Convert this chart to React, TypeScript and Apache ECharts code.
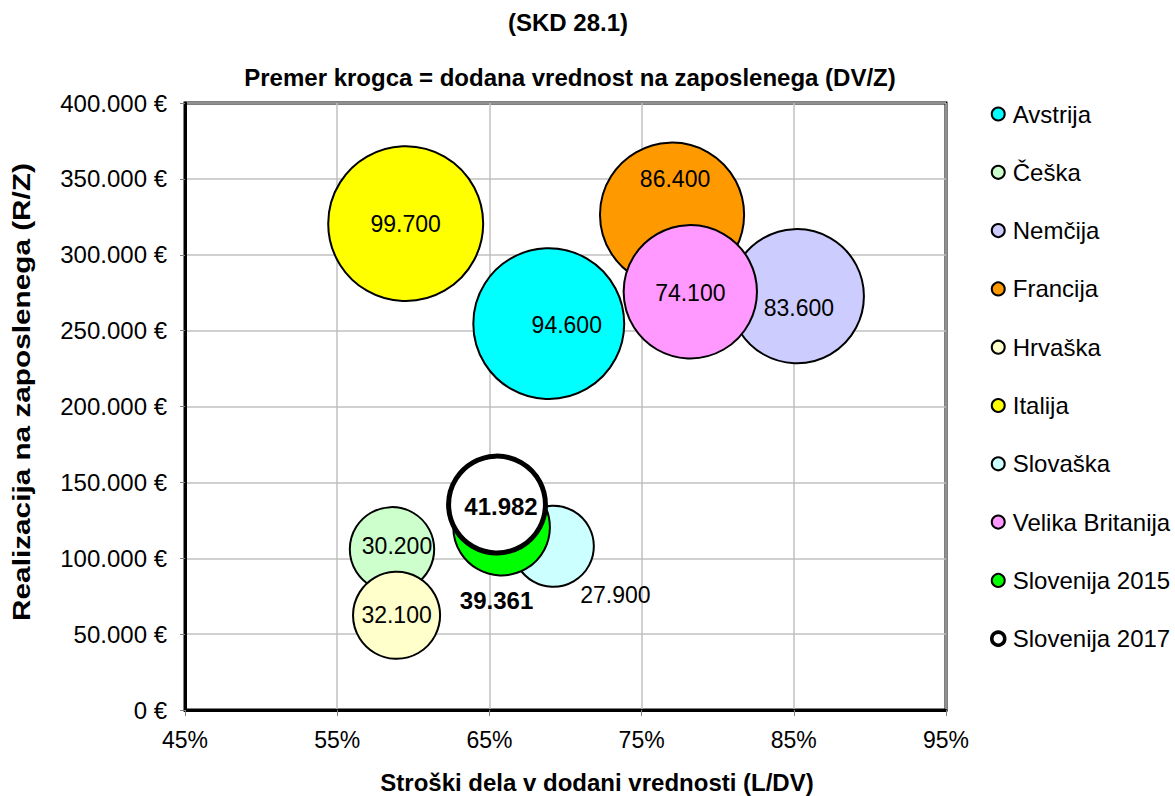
import React, { useEffect, useRef } from "react";
import * as echarts from "echarts";

// ---- data ----
const countries = [
  "Avstrija",
  "Češka",
  "Nemčija",
  "Francija",
  "Hrvaška",
  "Italija",
  "Slovaška",
  "Velika Britanija",
  "Slovenija 2015",
  "Slovenija 2017",
];
// Stroški dela v dodani vrednosti (L/DV), in %
const laborShare = [68.9, 58.6, 85.2, 77.0, 58.9, 59.5, 69.2, 78.2, 65.8, 65.5];
// Realizacija na zaposlenega (R/Z), €
const revenuePerEmployee = [254600, 105900, 272700, 326400, 62400, 320500, 107900, 275600, 120500, 135400];
// Dodana vrednost na zaposlenega (DV/Z), € (label)
const valueAddedPerEmployee = [94600, 30200, 83600, 86400, 32100, 99700, 27900, 74100, 39361, 41982];
// Bubble size as drawn in the source chart
const bubbleSize = [94600, 30200, 75000, 86400, 32100, 99700, 27900, 74100, 39361, 41982];

const xTickStart = 45;
const xTickEnd = 95;
const xTickStep = 10;
const yTickMax = 400000;
const yTickStep = 50000;

// ---- styles ----
const colors = ["#00FFFF", "#CCFFCC", "#CCCCFF", "#FF9900", "#FFFFCC", "#FFFF00", "#CCFFFF", "#FF99FF", "#00FF00", "#FFFFFF"];
const borderWidths = [2, 2, 2, 2, 2, 2, 2, 2, 2, 5];
const labelOffsets = [[18, 1], [5, -3], [2, 12], [3, -36], [0, 0], [0, 0], [62, 49], [0, 1], [-5, 73], [4, 2]];
const labelBold = [false, false, false, false, false, false, false, false, true, true];

const FONT = "'Liberation Sans', Arial, sans-serif";

function fmt(n: number): string {
  const s = Math.round(n).toString();
  return s.replace(/\B(?=(\d{3})+(?!\d))/g, ".");
}

export default function App() {
  const ref = useRef<HTMLDivElement>(null);
  useEffect(() => {
    document.body.style.margin = "0";
    if (!ref.current) return;
    const chart = echarts.init(ref.current, undefined, { renderer: "svg" });

    const series = countries.map((name, i) => {
      const outerR = 7.86 * Math.sqrt(bubbleSize[i] / 1000);
      return {
        name,
        type: "scatter",
        silent: true,
        symbol: "circle",
        symbolSize: 2 * outerR - borderWidths[i],
        itemStyle: {
          color: colors[i],
          borderColor: "#000",
          borderWidth: borderWidths[i],
          opacity: 1,
        },
        label: {
          show: true,
          position: "inside",
          offset: labelOffsets[i],
          formatter: () => fmt(valueAddedPerEmployee[i]),
          color: "#000",
          fontFamily: FONT,
          fontSize: labelBold[i] ? 24 : 23,
          fontWeight: labelBold[i] ? "bold" : "normal",
        },
        emphasis: { disabled: true },
        data: [[laborShare[i] - xTickStart, revenuePerEmployee[i]]],
      };
    });

    const option = {
      animation: false,
      backgroundColor: "#fff",
      grid: {
        left: 185,
        right: 229,
        top: 103,
        bottom: 86,
        show: true,
        borderColor: "#000",
        borderWidth: 3,
        containLabel: false,
      },
      xAxis: {
        type: "value",
        min: 0,
        max: xTickEnd - xTickStart,
        interval: xTickStep,
        axisLine: { show: true, onZero: false, lineStyle: { color: "#000", width: 3 } },
        axisTick: { show: true, length: 6, lineStyle: { color: "#808080", width: 1 } },
        splitLine: { show: true, lineStyle: { color: "#c0c0c0", width: 1.5 } },
        axisLabel: {
          formatter: (v: number) => `${Math.round(v + xTickStart)}%`,
          color: "#000",
          fontFamily: FONT,
          fontSize: 23,
          margin: 18,
        },
      },
      yAxis: {
        type: "value",
        min: 0,
        max: yTickMax,
        interval: yTickStep,
        axisLine: { show: true, onZero: false, lineStyle: { color: "#000", width: 3 } },
        axisTick: { show: true, length: 5, lineStyle: { color: "#808080", width: 1 } },
        splitLine: { show: true, lineStyle: { color: "#c0c0c0", width: 1.5 } },
        axisLabel: {
          formatter: (v: number) => `${v === 0 ? "0" : fmt(v)} €`,
          color: "#000",
          fontFamily: FONT,
          fontSize: 24,
          margin: 18,
        },
      },
      legend: {
        orient: "vertical",
        left: 985,
        top: 97,
        icon: "circle",
        itemWidth: 13,
        itemHeight: 13,
        itemGap: 34.3,
        selectedMode: false,
        textStyle: { fontFamily: FONT, fontSize: 24, color: "#000", lineHeight: 24, padding: [0, 0, 0, 3] },
        data: countries.map((name, i) => ({
          name,
          itemStyle: { color: colors[i], borderColor: "#000", borderWidth: i === 9 ? 3.5 : 2 },
        })),
      },
      graphic: [
        {
          type: "text",
          x: 568,
          y: 22,
          style: { text: "(SKD 28.1)", font: `bold 24px ${FONT}`, fill: "#000", textAlign: "center", textVerticalAlign: "middle" },
        },
        {
          type: "text",
          x: 570,
          y: 77,
          style: {
            text: "Premer krogca = dodana vrednost na zaposlenega (DV/Z)",
            font: `bold 24px ${FONT}`,
            fill: "#000",
            textAlign: "center",
            textVerticalAlign: "middle",
          },
        },
        {
          type: "text",
          x: 597,
          y: 782,
          style: {
            text: "Stroški dela v dodani vrednosti (L/DV)",
            font: `bold 24px ${FONT}`,
            fill: "#000",
            textAlign: "center",
            textVerticalAlign: "middle",
          },
        },
        {
          type: "text",
          x: 22,
          y: 392,
          rotation: Math.PI / 2,
          scaleX: 1.24,
          style: {
            text: "Realizacija na zaposlenega (R/Z)",
            font: `bold 24px ${FONT}`,
            fill: "#000",
            textAlign: "center",
            textVerticalAlign: "middle",
          },
        },
      ],
      series,
    };

    chart.setOption(option as any);
    return () => chart.dispose();
  }, []);

  return <div ref={ref} style={{ width: 1175, height: 796 }} />;
}
